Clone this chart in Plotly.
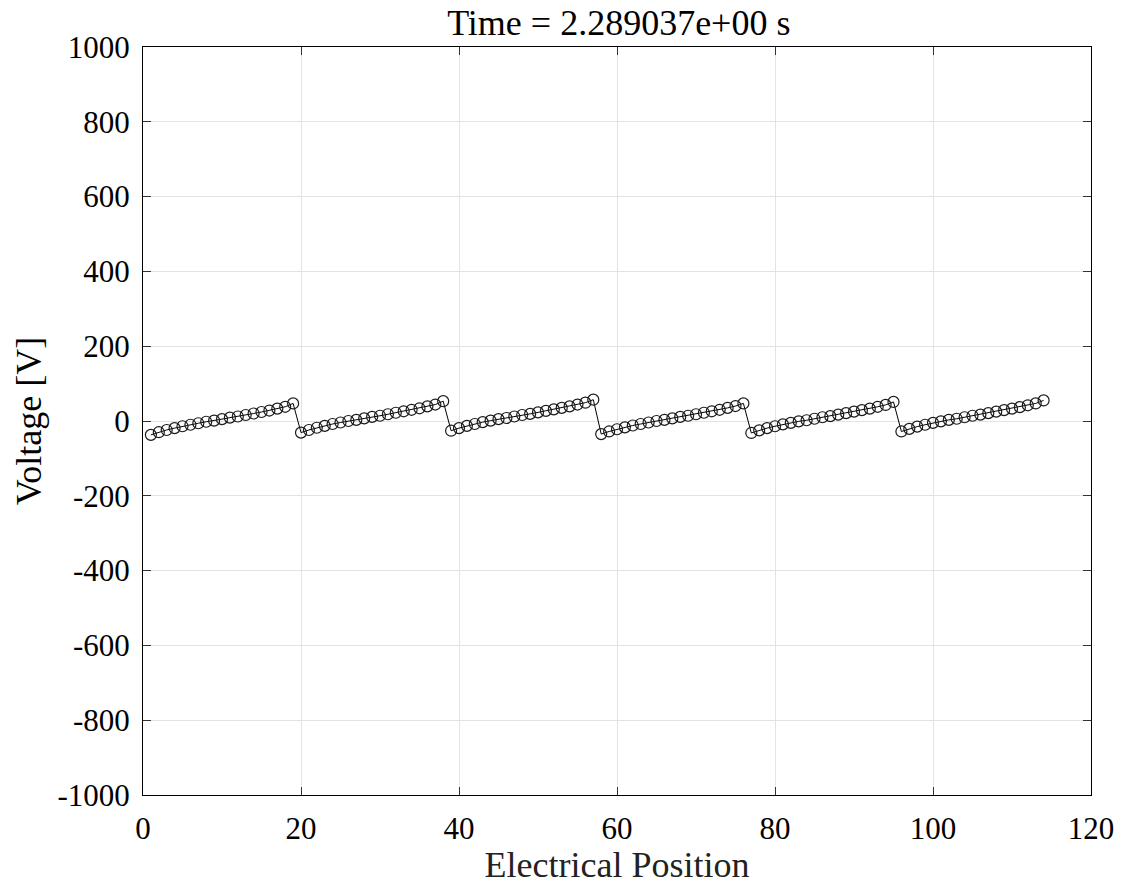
import plotly.graph_objects as go

positions = list(range(1, 115))

seg1 = [-37, -30, -24, -19, -14, -10, -6, -2, 1, 5, 9, 12, 16, 20, 24, 28, 33, 38, 47]
seg2 = [-31, -24, -18, -13, -8, -4, 0, 3, 7, 11, 14, 18, 22, 26, 30, 34, 39, 44, 53]
seg3 = [-26, -19, -13, -8, -3, 1, 5, 8, 12, 16, 19, 23, 27, 31, 35, 39, 44, 49, 57]
seg4 = [-35, -28, -22, -17, -12, -8, -4, 0, 3, 7, 11, 14, 18, 22, 26, 30, 35, 40, 47]
seg5 = [-32, -25, -19, -14, -9, -5, -1, 2, 6, 10, 13, 17, 21, 25, 29, 33, 38, 43, 51]
seg6 = [-28, -21, -15, -10, -5, -1, 3, 6, 10, 14, 17, 21, 25, 29, 33, 37, 42, 47, 55]

voltages = seg1 + seg2 + seg3 + seg4 + seg5 + seg6

x_ticks = [0, 20, 40, 60, 80, 100, 120]
y_ticks = [-1000, -800, -600, -400, -200, 0, 200, 400, 600, 800, 1000]

font_family = "Liberation Serif"

fig = go.Figure()
fig.add_trace(go.Scatter(
    x=positions, y=voltages, mode="lines+markers",
    line=dict(color="black", width=1),
    marker=dict(symbol="circle-open", size=11, color="#1a1a1a",
                line=dict(width=1.2, color="#1a1a1a")),
    showlegend=False,
))

axis_common = dict(
    showgrid=True, gridcolor="#e3e3e3", gridwidth=1,
    showline=True, linecolor="black", linewidth=1, mirror="allticks",
    ticks="inside", ticklen=8, tickcolor="#333333", tickwidth=1,
    zeroline=False, automargin=False,
    tickfont=dict(family=font_family, size=31, color="black"),
)

fig.update_layout(
    width=1122, height=885,
    font=dict(family=font_family, size=31, color="black"),
    paper_bgcolor="white", plot_bgcolor="white",
    margin=dict(l=143, r=31, t=47, b=90, autoexpand=False),
    title=dict(text="Time = 2.289037e+00 s", x=0.5515, xanchor="center",
               y=1 - 22 / 885, yanchor="middle", automargin=False,
               font=dict(family=font_family, size=36, color="black")),
    xaxis=dict(range=[0, 120], tickvals=x_ticks, ticktext=[str(v) for v in x_ticks],
               ticklabelstandoff=6,
               title=dict(text="Electrical Position", standoff=6,
                          font=dict(family=font_family, size=36, color="#222222")),
               **axis_common),
    yaxis=dict(range=[-1000, 1000], tickvals=y_ticks, ticktext=[str(v) for v in y_ticks],
               ticklabelstandoff=6,
               title=dict(text="Voltage [V]", standoff=4,
                          font=dict(family=font_family, size=36, color="black")),
               **axis_common),
)

fig.write_html("out.html", config={"displayModeBar": False},
               post_script="document.body.style.margin='0';")
